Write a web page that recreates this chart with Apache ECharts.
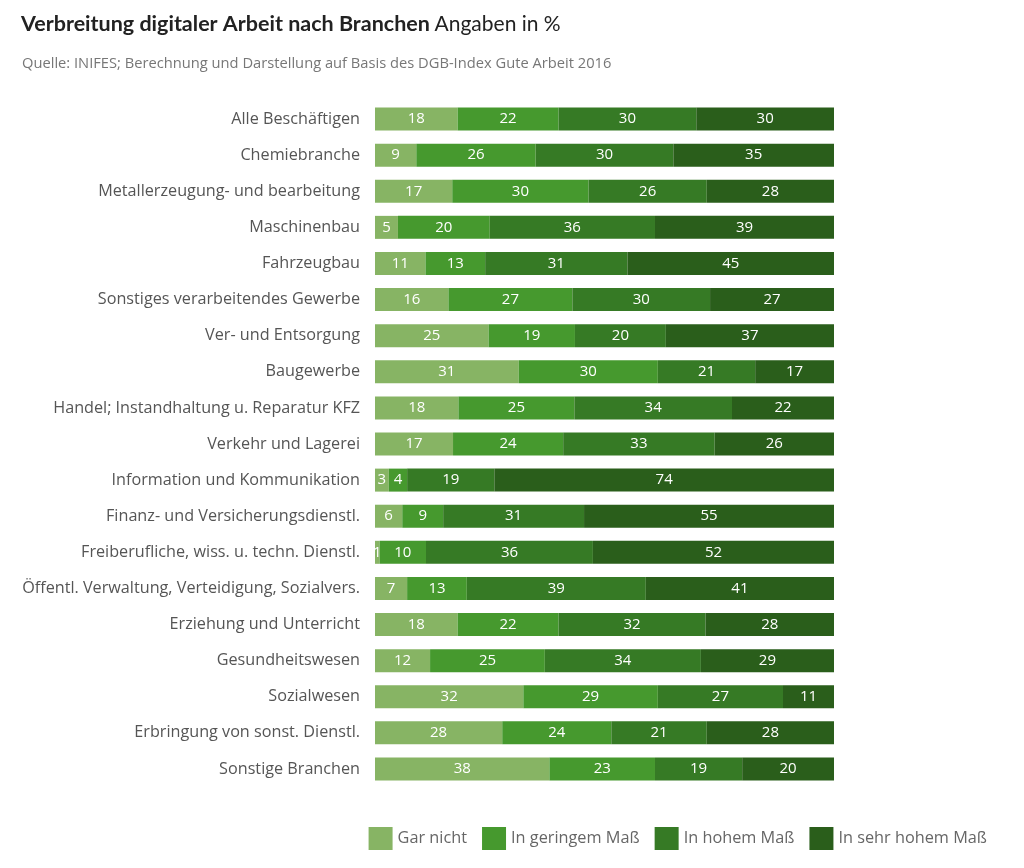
<!DOCTYPE html>
<html><head><meta charset="utf-8">
<script src="https://cdn.jsdelivr.net/npm/echarts@6/dist/echarts.min.js"></script>
<style>html,body{margin:0;padding:0;background:#fff}#c{width:1024px;height:868px}</style>
</head><body><div id="c"></div>
<script>
const categories = ["Alle Beschäftigen","Chemiebranche","Metallerzeugung- und bearbeitung","Maschinenbau","Fahrzeugbau","Sonstiges verarbeitendes Gewerbe","Ver- und Entsorgung","Baugewerbe","Handel; Instandhaltung u. Reparatur KFZ","Verkehr und Lagerei","Information und Kommunikation","Finanz- und Versicherungsdienstl.","Freiberufliche, wiss. u. techn. Dienstl.","Öffentl. Verwaltung, Verteidigung, Sozialvers.","Erziehung und Unterricht","Gesundheitswesen","Sozialwesen","Erbringung von sonst. Dienstl.","Sonstige Branchen"];
const seriesNames = ["Gar nicht","In geringem Maß","In hohem Maß","In sehr hohem Maß"];
const garNicht   = [18, 9,17, 5,11,16,25,31,18,17, 3, 6, 1, 7,18,12,32,28,38];
const geringem   = [22,26,30,20,13,27,19,30,25,24, 4, 9,10,13,22,25,29,24,23];
const hohem      = [30,30,26,36,31,30,20,21,34,33,19,31,36,39,32,34,27,21,19];
const sehrHohem  = [30,35,28,39,45,27,37,17,22,26,74,55,52,41,28,29,11,28,20];
const colors = ["#87b464","#46992e","#367a25","#2a5e1b"];

const all = [garNicht, geringem, hohem, sehrHohem];
const totals = categories.map((c,i)=>all.reduce((s,a)=>s+a[i],0));
const FONT = "'Open Sans', sans-serif";
const BFONT = "Lato, sans-serif";

const chart = echarts.init(document.getElementById('c'), null, {renderer:'canvas'});
chart.setOption({
  animation:false,
  textStyle:{fontFamily:FONT},
  title:[{
    left:16, top:8,
    text:'{b|Verbreitung digitaler Arbeit nach Branchen} {n|Angaben in %}',
    textStyle:{rich:{
      b:{fontFamily:BFONT,fontSize:21.5,fontWeight:'bold',color:'#222'},
      n:{fontFamily:BFONT,fontSize:21,fontWeight:'normal',color:'#222'}
    }}
  },{
    left:17, top:51,
    text:'Quelle: INIFES; Berechnung und Darstellung auf Basis des DGB-Index Gute Arbeit 2016',
    textStyle:{fontFamily:FONT,fontSize:14.7,fontWeight:'normal',color:'#777'}
  }],
  legend:{
    right:32, top:822, itemWidth:24, itemHeight:23, itemGap:15,
    icon:'rect',
    textStyle:{fontFamily:FONT,fontSize:16.3,color:'#666'},
    data:seriesNames
  },
  grid:{left:375, right:190, top:101, height:686, containLabel:false},
  xAxis:{type:'value', min:0, max:100, show:false},
  yAxis:{type:'category', inverse:true, data:categories,
    axisLine:{show:false}, axisTick:{show:false},
    axisLabel:{margin:15, fontSize:16.2, color:'#555', fontFamily:FONT}},
  series: seriesNames.map((n,k)=>({
    name:n, type:'bar', stack:'t', barWidth:23,
    itemStyle:{color:colors[k]},
    label:{show:true, position:'inside', color:'#fff', fontSize:15, fontFamily:FONT,
      formatter:p=>String(all[k][p.dataIndex])},
    data: all[k].map((v,i)=>v/totals[i]*100)
  }))
});
</script></body></html>
